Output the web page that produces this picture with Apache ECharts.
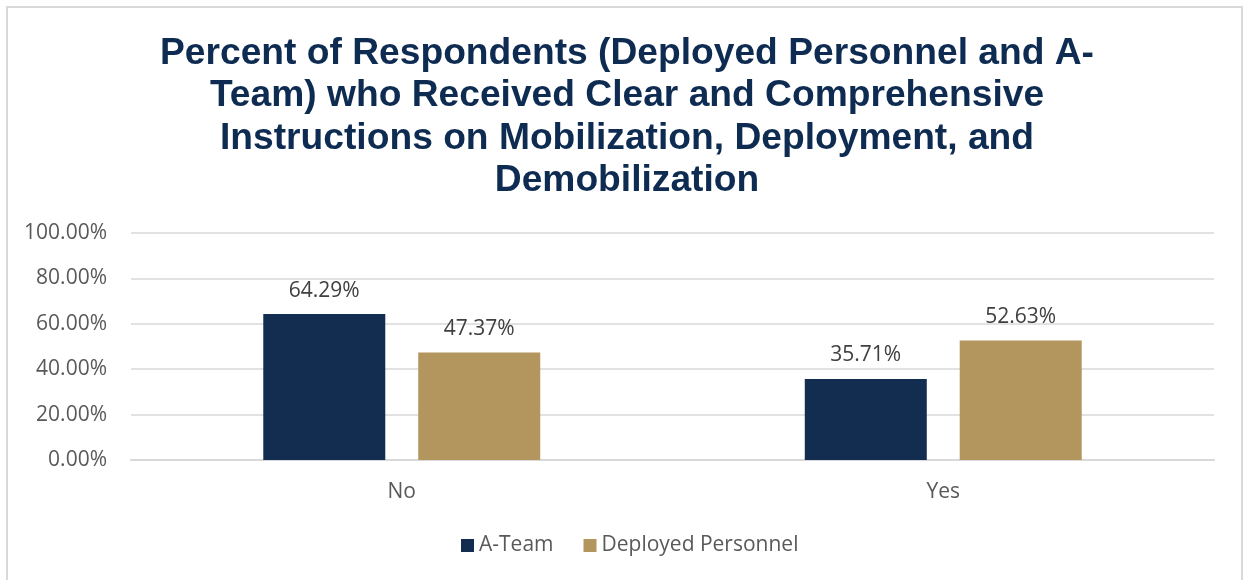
<!DOCTYPE html>
<html>
<head>
<meta charset="utf-8">
<script src="https://cdn.jsdelivr.net/npm/echarts@6/dist/echarts.min.js"></script>
<style>
  html, body { margin: 0; padding: 0; background: #fff; }
  #chart { width: 1244px; height: 580px; }
</style>
</head>
<body>
<div id="chart"></div>
<script>
var titleText = 'Percent of Respondents (Deployed Personnel and A-\nTeam) who Received Clear and Comprehensive\nInstructions on Mobilization, Deployment, and\nDemobilization';
var categories = ['No', 'Yes'];
var aTeam = [64.29, 35.71];
var deployed = [47.37, 52.63];
var yTicks = [0, 20, 40, 60, 80, 100];

var axisFont = '"Open Sans", "Noto Sans", sans-serif';
var myChart = echarts.init(document.getElementById('chart'));

var pctLabel = function (p) { return p.value.toFixed(2) + '%'; };

myChart.setOption({
    animation: false,
    title: {
        text: titleText,
        left: 622,
        top: 27,
        textAlign: 'center',
        textStyle: {
            fontFamily: '"Liberation Sans", Arial, sans-serif',
            fontWeight: 'bold',
            fontSize: 37.2,
            lineHeight: 42.6,
            color: '#0e2b51'
        }
    },
    graphic: [{
        type: 'rect',
        shape: { x: 7, y: 7, width: 1235, height: 600 },
        style: { fill: 'none', stroke: '#d9d9d9', lineWidth: 2 },
        silent: true
    }],
    legend: {
        bottom: 19,
        left: 456,
        itemWidth: 13,
        itemHeight: 13,
        itemGap: 30,
        icon: 'rect',
        textStyle: { fontFamily: axisFont, fontSize: 21, color: '#595959' },
        data: ['A-Team', 'Deployed Personnel']
    },
    grid: { left: 131, right: 30, top: 233, bottom: 120 },
    xAxis: {
        type: 'category',
        data: categories,
        axisTick: { show: false },
        axisLine: { lineStyle: { color: '#d9d9d9', width: 2 } },
        axisLabel: { fontFamily: axisFont, fontSize: 21, color: '#595959', margin: 22 }
    },
    yAxis: {
        type: 'value',
        min: yTicks[0],
        max: yTicks[yTicks.length - 1],
        interval: yTicks[1] - yTicks[0],
        axisLine: { show: false },
        axisTick: { show: false },
        splitLine: { lineStyle: { color: '#d9d9d9', width: 1.5 } },
        axisLabel: {
            fontFamily: axisFont, fontSize: 21, color: '#595959', margin: 24,
            formatter: function (v) { return v.toFixed(2) + '%'; }
        }
    },
    series: [{
        name: 'A-Team',
        type: 'bar',
        data: aTeam,
        barWidth: 122,
        barGap: '27%',
        itemStyle: { color: '#132d51' },
        label: {
            show: true, position: 'top', distance: 13,
            fontFamily: axisFont, fontSize: 21, color: '#404040',
            formatter: pctLabel
        }
    }, {
        name: 'Deployed Personnel',
        type: 'bar',
        data: deployed,
        barWidth: 122,
        itemStyle: { color: '#b3965e' },
        label: {
            show: true, position: 'top', distance: 13,
            fontFamily: axisFont, fontSize: 21, color: '#404040',
            formatter: pctLabel
        }
    }]
});

window.addEventListener('resize', function () {
    myChart.resize();
});
</script>
</body>
</html>
